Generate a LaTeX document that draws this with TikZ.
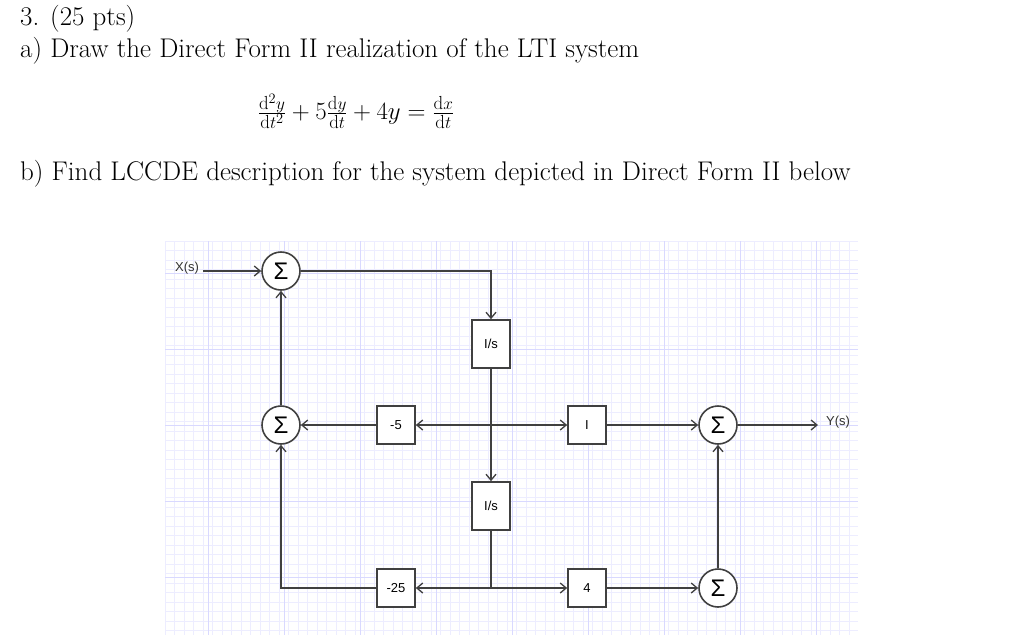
\documentclass[tikz,border=0pt]{standalone}
\usepackage{fontspec}
\newfontfamily\sans{Liberation Sans}
\usetikzlibrary{arrows.meta}
\begin{document}
\begin{tikzpicture}[x=1pt,y=-1pt,
  ln/.style={draw=black!75,line width=1.6pt},
  arr/.style={ln,-{Straight Barb[length=6pt,width=10pt,line width=1.3pt]}},
  blk/.style={draw=black!75,line width=1.6pt,minimum width=38pt,minimum height=38pt,inner sep=0pt,font=\sans\fontsize{13}{13}\selectfont,fill=white},
  tall/.style={blk,minimum height=48pt},
  sm/.style={draw=black!75,line width=1.6pt,circle,minimum size=38pt,inner sep=0pt,font=\sans\fontsize{24}{24}\selectfont,fill=white},
  lbl/.style={font=\sans\fontsize{13}{13}\selectfont,text=black!80},
  hd/.style={anchor=west,font=\fontsize{27}{30}\selectfont,inner sep=0pt}]
\useasboundingbox (0,0) rectangle (1024,641);
% grid
\foreach \i in {0,...,72} \draw[blue!7,line width=0.6pt] (165+9.5*\i,241)--(165+9.5*\i,635);
\foreach \i in {0,...,41} \draw[blue!7,line width=0.6pt] (165,241+9.5*\i)--(858,241+9.5*\i);
\foreach \x in {208,284,...,816} \draw[blue!15,line width=0.8pt] (\x,241)--(\x,635);
\foreach \y in {273,349,425,501,577} \draw[blue!15,line width=0.8pt] (165,\y)--(858,\y);
% header
\node[hd] (t1) at (20,19) {3. (25 pts)};
\node[hd] (t2) at (20,51) {a) Draw the Direct Form II realization of the LTI system};
\node[font=\fontsize{27}{30}\selectfont] (eq) at (356,111) {$\frac{\mathrm{d}^2y}{\mathrm{d}t^2}+5\frac{\mathrm{d}y}{\mathrm{d}t}+4y=\frac{\mathrm{d}x}{\mathrm{d}t}$};
\node[hd] (t3) at (20,174) {b) Find LCCDE description for the system depicted in Direct Form II below};
% nodes
\node[lbl] (xs) at (187,268) {X(s)};
\coordinate (xe) at (203,271);
\node[sm] (s1) at (281,271) {Σ};
\node[sm] (s2) at (281,425) {Σ};
\node[sm] (s3) at (718,425) {Σ};
\node[sm] (s4) at (718,588) {Σ};
\node[tall] (i1) at (491,344) {I/s};
\node[tall] (i2) at (491,506) {I/s};
\node[blk] (g5) at (396,425) {-5};
\node[blk] (g25) at (396,588) {-25};
\node[blk] (g1) at (587,425) {I};
\node[blk] (g4) at (587,588) {4};
\coordinate (j1) at (491,425);
\coordinate (j2) at (491,588);
\coordinate (c1) at (491,271);
\coordinate (c2) at (281,588);
\coordinate (ye) at (818,425);
\node[lbl] (ys) at (838,422) {Y(s)};
% connectors
\draw[arr] (xe) -- (s1);
\draw[arr] (s1) -- (c1) -- (i1);
\draw[ln] (i1) -- (j1);
\draw[arr] (j1) -- (i2);
\draw[arr] (j1) -- (g5);
\draw[arr] (g5) -- (s2);
\draw[arr] (j1) -- (g1);
\draw[arr] (g1) -- (s3);
\draw[arr] (s3) -- (ye);
\draw[ln] (i2) -- (j2);
\draw[arr] (j2) -- (g25);
\draw[arr] (g25) -- (c2) -- (s2);
\draw[arr] (j2) -- (g4);
\draw[arr] (g4) -- (s4);
\draw[arr] (s4) -- (s3);
\draw[arr] (s2) -- (s1);
\end{tikzpicture}
\end{document}
